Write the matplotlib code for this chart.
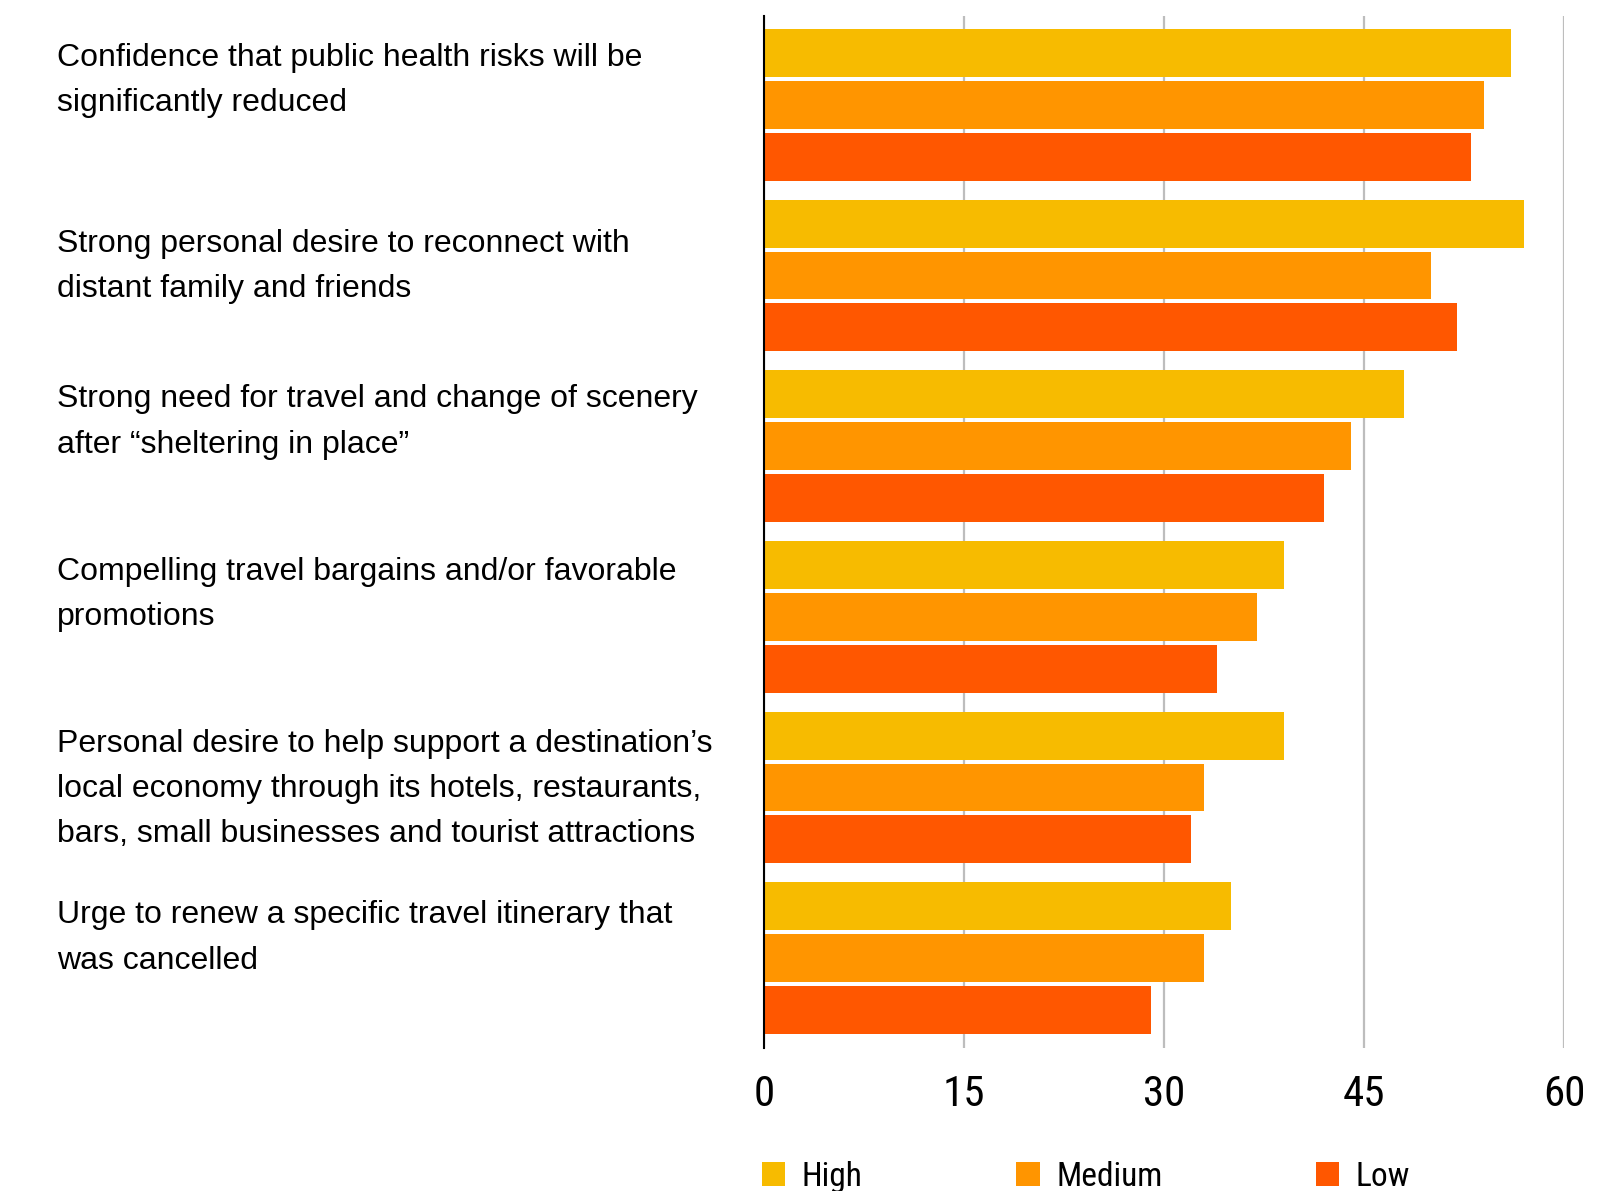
import matplotlib
matplotlib.use("Agg")
import matplotlib.pyplot as plt
from matplotlib import font_manager
from matplotlib.patches import Patch
import numpy as np

# Daten
labels = [
    "Confidence that public health risks will be\nsignificantly reduced",
    "Strong personal desire to reconnect with\ndistant family and friends",
    "Strong need for travel and change of scenery\nafter \u201csheltering in place\u201d",
    "Compelling travel bargains and/or favorable\npromotions",
    "Personal desire to help support a destination\u2019s\nlocal economy through its hotels, restaurants,\nbars, small businesses and tourist attractions",
    "Urge to renew a specific travel itinerary that\nwas cancelled",
]
series_names = ["High", "Medium", "Low"]
high = [56, 57, 48, 39, 39, 35]
medium = [54, 50, 44, 37, 33, 33]
low = [53, 52, 42, 34, 32, 29]
x_ticks = [0, 15, 30, 45, 60]
colors = ["#F7BB00", "#FF9500", "#FF5700"]

# Abstand erste Textzeile unter Gruppenoberkante (px)
label_dy = [29, 44, 29, 31, 32, 33]

installed = {f.name for f in font_manager.fontManager.ttflist}
narrow = "DejaVu Sans"
for name in ["Roboto Condensed", "Liberation Sans Narrow", "DejaVu Sans Condensed"]:
    if name in installed:
        narrow = name
        break

fig = plt.figure(figsize=(16.2, 11.91), dpi=100)
ax = fig.add_axes([764 / 1620, 1 - 1048 / 1191, 800 / 1620, 1032 / 1191])

step = 52 / 171
height = 48 / 171
y = np.arange(len(labels))
for k, vals in enumerate([high, medium, low]):
    ax.barh(y + (k - 1) * step, vals, height=height, color=colors[k], zorder=2)

ax.set_xlim(0, 60)
ax.set_ylim(5 + 0.4445 + 14 / 171, -0.4445 - 13 / 171)
ax.set_xticks(x_ticks)
ax.set_xticklabels([str(t) for t in x_ticks], fontsize=31, family=narrow)
ax.tick_params(axis="x", length=0, pad=19)
ax.set_yticks([])
ax.grid(axis="x", color="#bdbdbd", linewidth=1.6, zorder=0)
for s in ["top", "right", "bottom"]:
    ax.spines[s].set_visible(False)
ax.spines["left"].set_linewidth(1.5)
ax.spines["left"].set_color("black")
ax.spines["left"].set_zorder(3)

# Beschriftungen links
trans = matplotlib.transforms.blended_transform_factory(fig.transFigure, ax.transData)
for i, lab in enumerate(labels):
    top = i - 0.4445
    for j, line in enumerate(lab.split("\n")):
        fig.text(57 / 1620, top + (label_dy[i] + j * 45.5) / 171, line, transform=trans,
                 fontsize=23, family="Liberation Sans", va="center", ha="left")

handles = [Patch(facecolor=c, edgecolor="none") for c in colors]
fig.legend(handles, series_names, loc="center left", bbox_to_anchor=(762 / 1620, 1 - 1177 / 1191),
           ncol=3, frameon=False, prop={"family": narrow, "size": 24},
           handlelength=0.7, handleheight=0.73, handletextpad=0.5, columnspacing=4.6,
           borderpad=0, borderaxespad=0)

fig.savefig("out.png", dpi=100)
